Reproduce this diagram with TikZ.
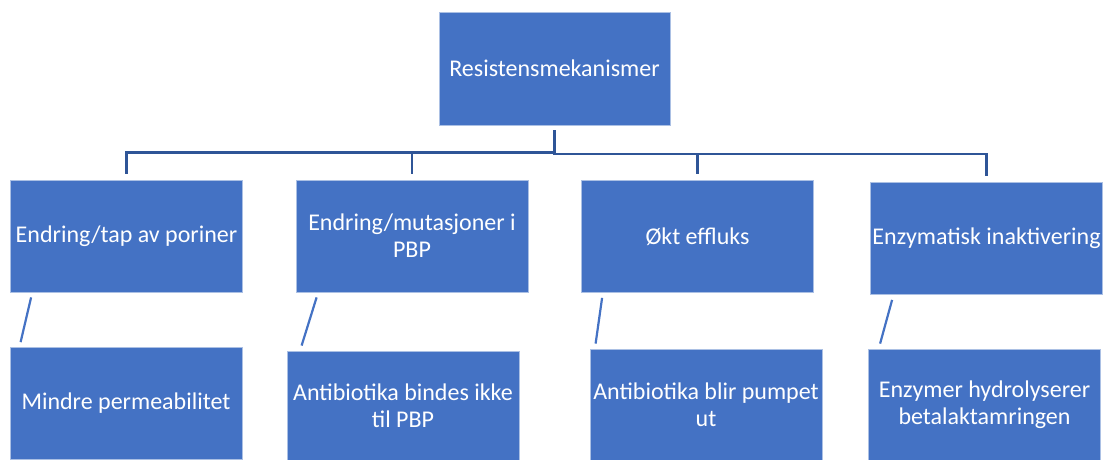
\documentclass[tikz,border=0pt]{standalone}
\usepackage{fontspec}
\setmainfont{Carlito}
\definecolor{boxblue}{HTML}{4472C4}
\definecolor{lineblue}{HTML}{2F5597}

\begin{document}
\begin{tikzpicture}
  [x=1pt,y=-1pt,every node/.style={rectangle,fill=boxblue,draw=white!55!boxblue,line width=0.8pt,
   text=white,align=center,inner sep=0pt,minimum width=232pt,minimum height=112pt,
   font=\fontsize{24}{27}\selectfont},
   tree/.style={draw=lineblue,line width=2.4pt},
   slash/.style={draw=boxblue,line width=2.2pt}]
  \useasboundingbox (0,0) rectangle (1103,460);
  \node [minimum width=231pt,minimum height=113pt] (top) at (554.5,68.5) {Resistensmekanismer};

  \node (pa) at (126.5,236) {Endring/tap av poriner};
  \node (pb) at (412,236) {Endring/mutasjoner i\\PBP};
  \node (pc) at (697.5,236.5) {Økt effluks};
  \node (pd) at (986.5,238.5) {Enzymatisk inaktivering};

  \node (ra) at (126,403.5) {Mindre permeabilitet};
  \node [minimum height=109pt] (rb) at (403,405.5) {Antibiotika bindes ikke\\til PBP};
  \node [minimum height=111pt] (rc) at (706,404.5) {Antibiotika blir pumpet\\ut};
  \node [minimum height=111pt] (rd) at (984.5,404.5) {Enzymer hydrolyserer\\betalaktamringen};

  \foreach \to/\drop in {pa/22,pb/22,pc/23.5,pd/23.5}
    \draw [tree] ([yshift=-5pt]top.south) -- ++(0,\drop) -| ([yshift=6pt]\to.north);

  \foreach \from/\to/\a/\b in {pa/ra/21/11,pb/rb/21/15,pc/rc/21/6,pd/rd/22/12}
    \draw [slash] ([shift={(\a,5)}]\from.south west) -- ([shift={(\b,-5)}]\to.north west);

\end{tikzpicture}
\end{document}
